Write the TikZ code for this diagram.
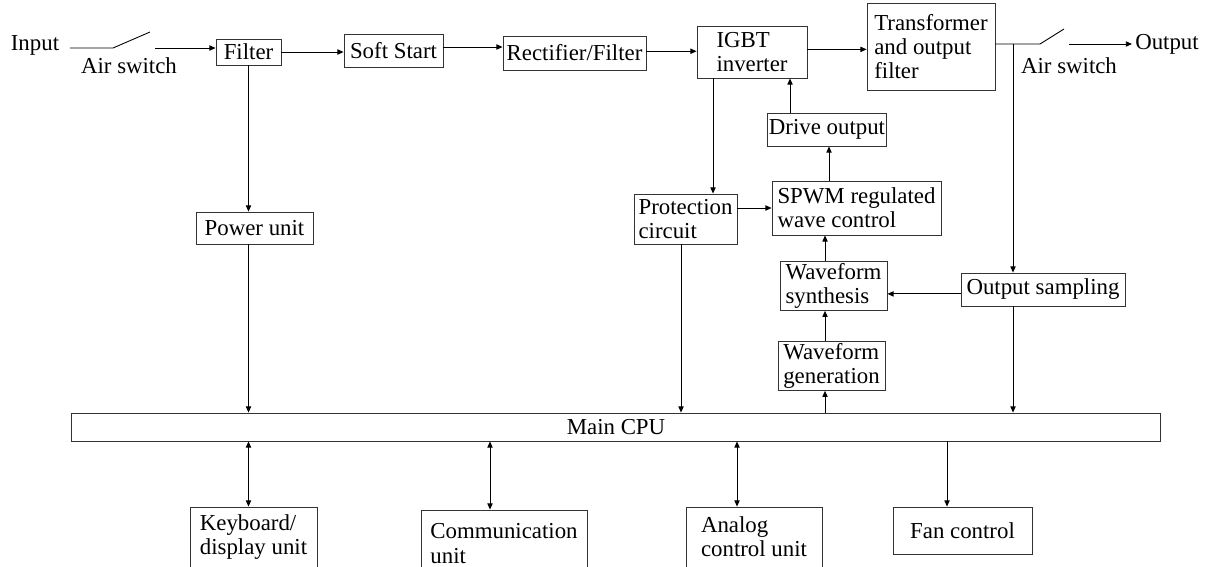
\documentclass[tikz,border=0pt]{standalone}
\usepackage{fontspec}
\setmainfont{Liberation Serif}
\usepackage{tikz}
\usetikzlibrary{positioning, arrows.meta}

\begin{document}
\begin{tikzpicture}
    [
        x=0.02cm, y=-0.02cm, line width=0.5pt,
        font=\fontsize{13}{13.8}\selectfont,
        >={Triangle[length=3.5pt, width=3pt]},
        box_node/.style={rectangle, draw=black!80, inner sep=1pt, align=left},
        text_node/.style={inner sep=0pt},
    ]
        \useasboundingbox (0,0) rectangle (1213,566);
        \clip (0,0) rectangle (1213,566);
        % power path
        \node[text_node] (in) at (35,45) {Input};
        \node[text_node] (sw1) at (129,66) {Air switch};
        \node[box_node, minimum width=1.30cm, minimum height=0.52cm] (filter) at (248.5,52) {Filter};
        \node[box_node, minimum width=1.98cm, minimum height=0.66cm] (soft) at (393.5,50.5) {Soft Start};
        \node[box_node, minimum width=2.86cm, minimum height=0.68cm, inner xsep=0pt] (rect) at (574.5,53) {Rectifier/Filter};
        \node[box_node, minimum width=2.20cm, minimum height=1.04cm] (igbt) at (752,52) {IGBT\\inverter};
        \node[box_node, minimum width=2.56cm, minimum height=1.74cm] (trans) at (931,46.5) {Transformer\\and output\\filter};
        \node[text_node] (sw2) at (1069,66) {Air switch};
        \node[text_node] (out) at (1167,44) {Output};
        % control boxes
        \node[box_node, minimum width=2.34cm, minimum height=0.64cm] (power) at (254.5,228) {Power unit};
        \node[box_node, minimum width=2.20cm, minimum height=0.66cm] (drive) at (827,129.5) {Drive output};
        \node[box_node, minimum width=3.38cm, minimum height=1.08cm] (spwm) at (856.5,208) {SPWM regulated\\wave control};
        \node[box_node, minimum width=2.06cm, minimum height=1.00cm] (prot) at (685.5,219) {Protection\\circuit};
        \node[box_node, minimum width=2.14cm, minimum height=0.92cm] (synth) at (833.5,286) {Waveform\\synthesis};
        \node[box_node, minimum width=2.14cm, minimum height=0.92cm] (gen) at (831.5,366) {Waveform\\generation};
        \node[box_node, minimum width=3.28cm, minimum height=0.66cm] (samp) at (1043,289.5) {Output sampling};
        \node[box_node, minimum width=21.80cm, minimum height=0.56cm, align=center] (cpu) at (616,427) {Main CPU};
        % units below the CPU
        \node[box_node, minimum width=2.54cm, minimum height=1.20cm] (kbd) at (253.5,537) {Keyboard/\\display unit};
        \node[box_node, minimum width=3.32cm, minimum height=1.34cm] (comm) at (504,543.5) {Communication\\unit};
        \node[box_node, minimum width=2.72cm, minimum height=1.20cm] (analog) at (754,537) {Analog\\control unit};
        \node[box_node, minimum width=2.78cm, minimum height=0.94cm, align=center] (fan) at (962.5,530.5) {Fan control};
        % switch and tap points
        \coordinate (sw1a) at (70,48);
        \coordinate (sw1b) at (113,48);
        \coordinate (sw1c) at (150,32);
        \coordinate (sw1d) at (155,48);
        \coordinate (sw2a) at (1040,44);
        \coordinate (sw2b) at (1064,29);
        \coordinate (sw2c) at (1069,44);
        \coordinate (sw2d) at (1132,44);
        \coordinate (tap) at (1013,44);
        \coordinate (x681) at (681,0);
        \coordinate (x713) at (713,0);
        \coordinate (x790) at (790,0);
        \coordinate (x825) at (825,0);
        \coordinate (x829) at (829,0);
        \coordinate (x737) at (737,0);
        \coordinate (x490) at (490,0);
        \coordinate (x947) at (947,0);
        % main line
        \draw (sw1a) -- (sw1b) -- (sw1c);
        \draw[->] (sw1d) -- (sw1d -| filter.west);
        \draw[->] (filter.east) -- (filter.east -| soft.west);
        \draw[->] ([yshift=2pt]soft.east) -- ([yshift=2pt]soft.east -| rect.west);
        \draw[->] ([yshift=1pt]rect.east) -- ([yshift=1pt]rect.east -| igbt.west);
        \draw[->] ([yshift=1.5pt]igbt.east) -- ([yshift=1.5pt]igbt.east -| trans.west);
        \draw (sw2a -| trans.east) -- (sw2a) -- (sw2b);
        \draw[->] (sw2c) -- (sw2d);
        \draw[->] (tap) -- (tap |- samp.north);
        % control
        \draw[->] (filter.south) -- (filter.south |- power.north);
        \draw[->] (filter.south |- power.south) -- (filter.south |- cpu.north);
        \draw[->] (igbt.south -| x713) -- (prot.north -| x713);
        \draw[->] (drive.north -| x790) -- (igbt.south -| x790);
        \draw[->] (spwm.north -| x829) -- (drive.south -| x829);
        \draw[->] (spwm.west -| prot.east) -- (spwm.west);
        \draw[->] (synth.north -| x825) -- (spwm.south -| x825);
        \draw[->] (gen.north -| x825) -- (synth.south -| x825);
        \draw[->] (cpu.north -| x825) -- (gen.south -| x825);
        \draw[->] ([yshift=-2.5pt]samp.west) -- ([yshift=-2.5pt]samp.west -| synth.east);
        \draw[->] (samp.south -| tap) -- (cpu.north -| tap);
        \draw[->] (prot.south -| x681) -- (cpu.north -| x681);
        % CPU to units
        \draw[<->] (cpu.south -| filter.south) -- (kbd.north -| filter.south);
        \draw[<->] (cpu.south -| x490) -- (comm.north -| x490);
        \draw[<->] (cpu.south -| x737) -- (analog.north -| x737);
        \draw[->] (cpu.south -| x947) -- (fan.north -| x947);
    \end{tikzpicture}
\end{document}
